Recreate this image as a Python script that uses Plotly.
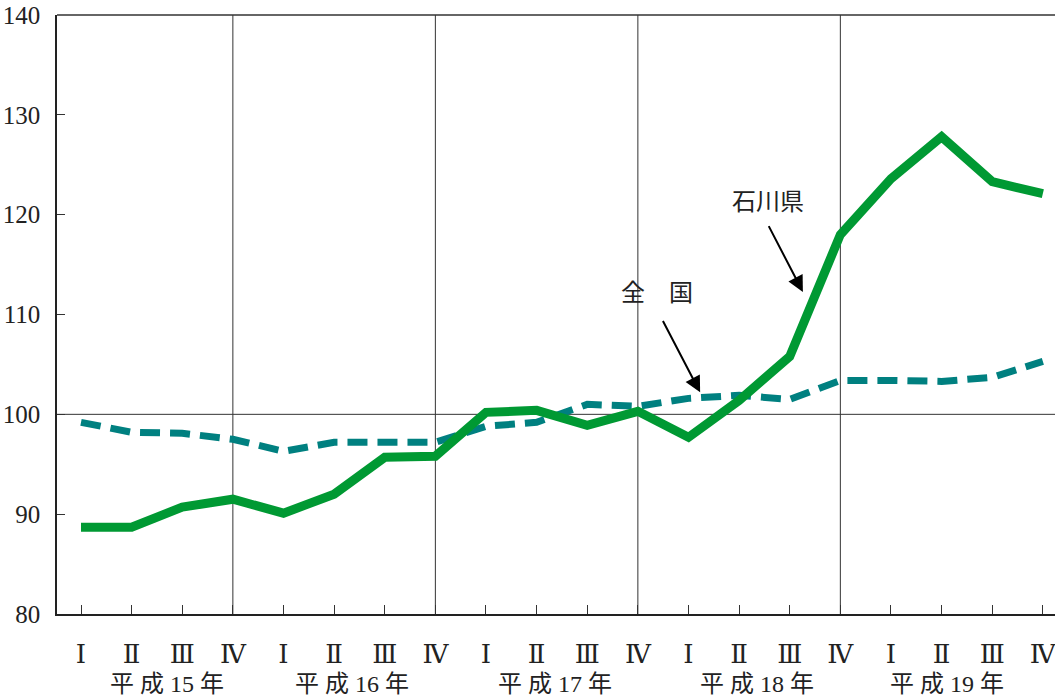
import plotly.graph_objects as go

quarters = ["Ⅰ", "Ⅱ", "Ⅲ", "Ⅳ"] * 5
years = ["平 成 15 年", "平 成 16 年", "平 成 17 年", "平 成 18 年", "平 成 19 年"]
year_pos = [1.7, 5.35, 9.36, 13.35, 17.1]
ishikawa = [88.7, 88.7, 90.7, 91.5, 90.1, 92.0, 95.7, 95.8, 100.2, 100.4,
            98.9, 100.3, 97.7, 101.4, 105.8, 118.0, 123.6, 127.8, 123.3, 122.1]
national = [99.2, 98.2, 98.1, 97.5, 96.3, 97.2, 97.2, 97.2, 98.8, 99.2,
            101.0, 100.8, 101.6, 101.9, 101.5, 103.4, 103.4, 103.3, 103.7, 105.3]
year_breaks = [3, 7, 11, 15]

x = list(range(len(quarters)))
serif = "Liberation Serif, DejaVu Serif, Noto Sans CJK JP"
cjk = "Noto Sans CJK JP"

fig = go.Figure()
fig.add_trace(go.Scatter(x=x, y=national, mode="lines",
                         line=dict(color="#008080", width=7, dash="20px,10px"),
                         showlegend=False))
fig.add_trace(go.Scatter(x=x, y=ishikawa, mode="lines",
                         line=dict(color="#009933", width=9),
                         showlegend=False))

shapes = []
for b in year_breaks:
    shapes.append(dict(type="line", xref="x", yref="paper", x0=b, x1=b, y0=0, y1=1,
                       line=dict(color="#333", width=1), layer="below"))
shapes.append(dict(type="line", xref="paper", yref="y", x0=0, x1=1, y0=100, y1=100,
                   line=dict(color="#333", width=1), layer="below"))
shapes.append(dict(type="line", xref="paper", yref="paper", x0=0, x1=1, y0=1, y1=1,
                   line=dict(color="#333", width=1.5)))

annotations = []
for yl, xp in zip(years, year_pos):
    annotations.append(dict(text=yl, x=xp, xref="x", y=0, yref="paper",
                            yanchor="middle", yshift=-70, showarrow=False,
                            font=dict(family=serif, size=24, color="#222")))
annotations.append(dict(text="石川県", x=13.57, y=121.5, xref="x", yref="y",
                        showarrow=False, font=dict(family=cjk, size=24, color="#222")))
annotations.append(dict(text="全　国", x=11.38, y=112.4, xref="x", yref="y",
                        showarrow=False, font=dict(family=cjk, size=24, color="#222")))
annotations.append(dict(text="", x=14.26, y=112.26, ax=13.57, ay=119.0,
                        xref="x", yref="y", axref="x", ayref="y", showarrow=True,
                        arrowhead=2, arrowsize=1.6, arrowwidth=2, arrowcolor="#000"))
annotations.append(dict(text="", x=12.23, y=102.2, ax=11.48, ay=109.5,
                        xref="x", yref="y", axref="x", ayref="y", showarrow=True,
                        arrowhead=2, arrowsize=1.6, arrowwidth=2, arrowcolor="#000"))
annotations.append(dict(text="(平成17年＝100)", x=1, xref="paper", xanchor="right", xshift=-12,
                        y=1, yref="paper", yanchor="bottom", yshift=11, showarrow=False,
                        font=dict(family=cjk, size=20, color="#222")))

fig.update_layout(
    width=1055, height=696,
    margin=dict(l=57, r=0, t=15, b=82),
    paper_bgcolor="white", plot_bgcolor="white",
    shapes=shapes, annotations=annotations,
    xaxis=dict(range=[-0.474, 19.24], tickvals=x, ticktext=quarters, automargin=False,
               ticklabeloverflow="allow",
               ticks="inside", ticklen=9, tickcolor="#333", tickwidth=1,
               showline=True, linecolor="#222", linewidth=1.5,
               showgrid=False, zeroline=False, ticklabelstandoff=16,
               tickfont=dict(family=serif, size=26, color="#222")),
    yaxis=dict(range=[80, 140], tickvals=[80, 90, 100, 110, 120, 130, 140], automargin=False,
               ticklabeloverflow="allow",
               ticks="inside", ticklen=8, tickcolor="#333", tickwidth=1,
               showline=True, linecolor="#222", linewidth=1.5,
               showgrid=False, zeroline=False, ticklabelstandoff=10,
               tickfont=dict(family=serif, size=25, color="#222")),
)

fig.write_html("out.html", config={"displayModeBar": False},
               post_script="document.body.style.margin='0';")
